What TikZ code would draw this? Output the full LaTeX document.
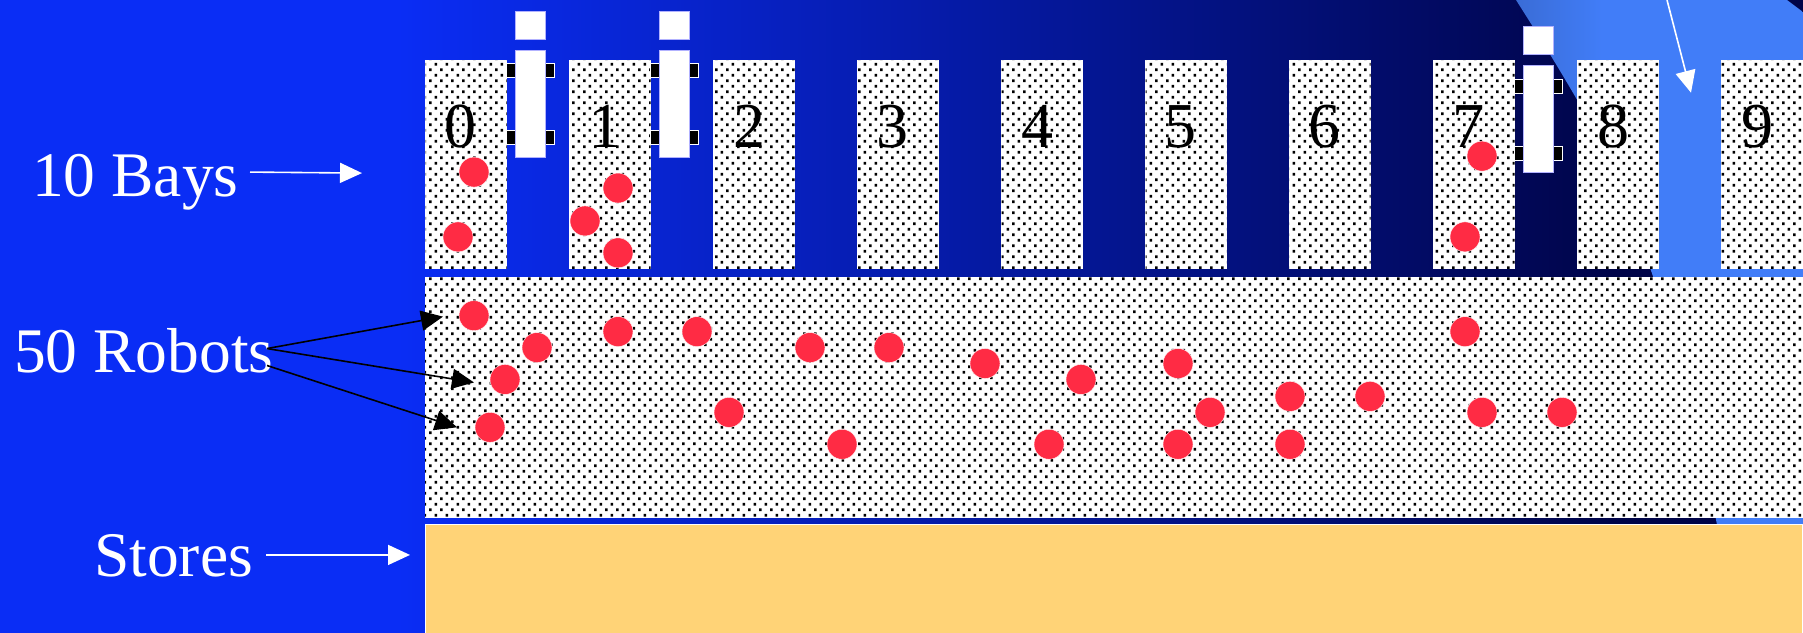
\documentclass[tikz,border=0pt]{standalone}
\usepackage{fontspec}
\setmainfont{Liberation Serif}
\usetikzlibrary{arrows.meta,patterns}
\definecolor{bgA}{RGB}{10,45,245}
\definecolor{bgB}{RGB}{0,4,72}
\definecolor{wedgeA}{RGB}{58,108,214}
\definecolor{wedgeB}{RGB}{65,125,248}
\definecolor{robotred}{RGB}{255,43,68}
\definecolor{storeorange}{RGB}{255,211,119}
\pgfdeclarehorizontalshading{bgshade}{100bp}{color(0bp)=(bgA);color(36bp)=(bgA);color(70bp)=(bgB);color(100bp)=(bgB)}
\pgfdeclarehorizontalshading{wedgeshade}{100bp}{color(0bp)=(wedgeA);color(25bp)=(wedgeA);color(40bp)=(wedgeB);color(100bp)=(wedgeB)}
\pgfdeclarepatternformonly{robotdots}{\pgfqpoint{-1pt}{-1pt}}{\pgfqpoint{12pt}{12pt}}{\pgfqpoint{11pt}{11pt}}{%
  \pgfpathrectangle{\pgfqpoint{0pt}{0pt}}{\pgfqpoint{2.7pt}{2.7pt}}%
  \pgfpathrectangle{\pgfqpoint{5.5pt}{5.5pt}}{\pgfqpoint{2.7pt}{2.7pt}}%
  \pgfusepath{fill}}
\tikzset{
  dotted area/.style={draw=white,line width=0.8pt,fill=white,postaction={pattern=robotdots,pattern color=black},inner sep=0pt,outer sep=0pt},
  baybox/.style={dotted area,rectangle,minimum width=81pt,minimum height=208pt},
  bayno/.style={anchor=base,font=\fontsize{64}{64}\selectfont,inner sep=0pt,text=black},
  biglabel/.style={anchor=base west,font=\fontsize{63.5}{64}\selectfont,inner sep=0pt,text=white},
  robot/.style={circle,fill=robotred,draw=white,line width=0.4pt,minimum size=30pt,inner sep=0pt},
  craneblock/.style={rectangle,fill=white,draw=white!70!blue,line width=0.6pt,inner sep=0pt,minimum width=30pt},
  wheel/.style={rectangle,fill=black,draw=white,line width=1pt,inner sep=0pt,minimum width=48pt,minimum height=14pt},
  whitearrow/.style={white,line width=1.6pt,-{Triangle[length=22pt,width=20pt]}},
  blackarrow/.style={black,line width=1.6pt,-{Triangle[length=22pt,width=20pt]}}
}
\begin{document}
\begin{tikzpicture}[x=1pt,y=-0.997pt]
\useasboundingbox (0,0) rectangle (1803,634);
% background
\shade[shading=bgshade] (0,0) rectangle (1803,634);
\shade[shading=wedgeshade] (1516,0) -- (1787,0) -- (1803,12) -- (1803,634) -- (1735,634)
  .. controls (1710,460) and (1660,250) .. (1577,100) .. controls (1555,62) and (1535,30) .. cycle;
% bays and cranes
\foreach \i/\cx in {0/466,1/610,2/754,3/898,4/1042,5/1186,6/1330,7/1474,8/1618,9/1762}{
  \node[baybox] (bay\i) at (\cx,165) {};
}
\foreach \i/\cx/\ty in {0/530/0,1/674/0,7/1538/15.5}{
  \node[wheel] (wheelA\i) at (\cx,71+\ty) {};
  \node[wheel] (wheelB\i) at (\cx,138+\ty) {};
  \node[craneblock,minimum height=28pt] (cab\i) at (\cx,25+\ty) {};
  \node[craneblock,minimum height=107pt] (mast\i) at (\cx,104+\ty) {};
}
% bay numbers
\foreach \i/\x in {0/460,1/605,2/749,3/892,4/1037,5/1180,6/1324,7/1468,8/1613,9/1757}{
  \node[bayno] (no\i) at (\x,148) {\i};
}
\begin{scope}[yshift=-1.6pt]
% floor areas
\node[dotted area,rectangle,minimum width=1377pt,minimum height=240pt,draw=white] (floor) at (1113.5,397) {};
\node[rectangle,fill=storeorange,draw=white,line width=0.8pt,inner sep=0pt,minimum width=1377pt,minimum height=112pt] (stores) at (1113.5,581) {};
% robots
\foreach \n/\x/\y in {a/474/171,b/458/236,c/618/187,d/585/220,e/618/252,f/1482/155,g/1465/236,
  h/474/315,i/537/347,j/618/331,k/697/331,l/810/347,m/889/347,n/985/363,o/1081/379,p/1178/363,q/1465/331,
  r/505/379,s/729/412,t/490/427,u/842/444,v/1049/444,w/1178/444,x/1210/412,y/1290/396,z/1290/444,aa/1370/396,ab/1482/412,ac/1562/412}{
  \node[robot] (robot\n) at (\x,\y) {};
}
% labels
\node[biglabel] (bays) at (32,195) {10 Bays};
\node[biglabel] (robots) at (14,372) {50 Robots};
\node[biglabel] (storelabel) at (94,577) {Stores};
% connectors
\coordinate (baysE) at (250,171);
\coordinate (baysT) at (362,172);
\coordinate (storeE) at (266,555);
\coordinate (storeT) at (410,555);
\coordinate (rA) at (267,348);
\coordinate (rB) at (267,365);
\coordinate (tA) at (443,316);
\coordinate (tB) at (474,382);
\coordinate (tC) at (457,427);
\draw[whitearrow] (baysE) -- (baysT);
\draw[whitearrow] (storeE) -- (storeT);
\draw[blackarrow] (rA) -- (tA);
\draw[blackarrow] (rA) -- (tB);
\draw[blackarrow] (rB) -- (tC);
\end{scope}
\coordinate (topS) at (1667,0);
\coordinate (topT) at (1691,93);
\draw[whitearrow] (topS) -- (topT);
\end{tikzpicture}
\end{document}
